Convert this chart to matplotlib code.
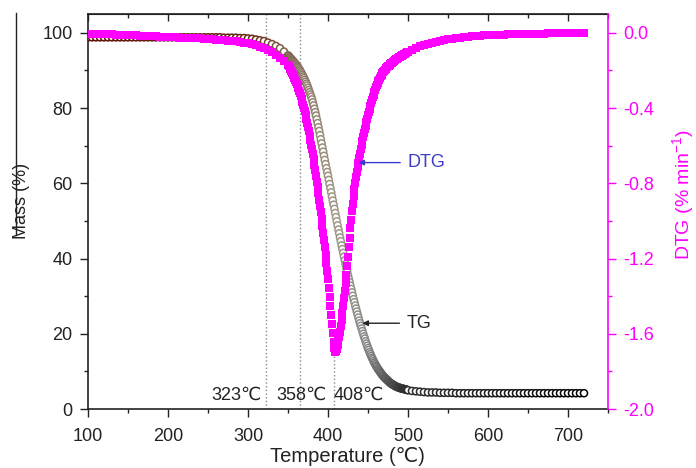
import numpy as np
import matplotlib
matplotlib.use('Agg')
import matplotlib.pyplot as plt
from matplotlib.colors import LinearSegmentedColormap
from matplotlib.lines import Line2D
from matplotlib.ticker import MultipleLocator, FormatStrFormatter

plt.rcParams['font.family'] = ['Liberation Sans', 'DejaVu Sans']
plt.rcParams['mathtext.default'] = 'regular'
plt.rcParams['axes.unicode_minus'] = False

# Data: temperature grid (denser through the main decomposition step)
temp = np.concatenate([np.arange(100, 351, 5), np.arange(351, 500), np.arange(500, 721, 5)])

# TG, mass (%)
mass = [
    98.8, 98.8, 98.8, 98.8, 98.8, 98.8, 98.8, 98.8, 98.8, 98.8,
    98.8, 98.8, 98.8, 98.8, 98.8, 98.8, 98.8, 98.8, 98.8, 98.8,
    98.8, 98.8, 98.8, 98.8, 98.8, 98.8, 98.8, 98.8, 98.8, 98.8,
    98.8, 98.8, 98.8, 98.8, 98.7, 98.7, 98.7, 98.7, 98.6, 98.6,
    98.5, 98.4, 98.2, 98.0, 97.8, 97.4, 97.0, 96.5, 95.9, 95.0,
    94.0,
    93.8, 93.5, 93.3, 93.0, 92.8, 92.6, 92.3, 92.1, 91.8, 91.6,
    91.3, 91.0, 90.7, 90.3, 90.0, 89.6, 89.2, 88.8, 88.4, 88.0,
    87.5, 87.0, 86.5, 86.0, 85.4, 84.8, 84.2, 83.6, 83.0, 82.3,
    81.5, 80.7, 79.8, 78.9, 78.0, 77.0, 76.0, 74.9, 73.9, 72.8,
    71.7, 70.6, 69.5, 68.4, 67.3, 66.2, 65.1, 64.0, 63.0, 62.0,
    60.9, 59.8, 58.7, 57.6, 56.5, 55.4, 54.3, 53.2, 52.1, 51.0,
    49.9, 48.8, 47.7, 46.7, 45.6, 44.6, 43.5, 42.5, 41.5, 40.5,
    39.5, 38.5, 37.5, 36.5, 35.5, 34.6, 33.7, 32.8, 31.9, 31.0,
    30.1, 29.2, 28.4, 27.5, 26.7, 25.9, 25.1, 24.3, 23.5, 22.8,
    22.1, 21.4, 20.7, 20.0, 19.3, 18.7, 18.0, 17.4, 16.8, 16.2,
    15.7, 15.1, 14.6, 14.1, 13.6, 13.2, 12.7, 12.3, 11.9, 11.5,
    11.2, 10.8, 10.5, 10.2, 9.9, 9.6, 9.3, 9.0, 8.8,
    8.5, 8.3, 8.1, 7.9, 7.7, 7.5, 7.3, 7.1, 6.9, 6.75,
    6.6, 6.5, 6.35, 6.25, 6.1, 6.0, 5.9, 5.8, 5.75, 5.65,
    5.6, 5.5, 5.45, 5.4, 5.35, 5.3, 5.25, 5.2, 5.1, 5.05,
    5.0, 4.8, 4.7, 4.6, 4.5, 4.4, 4.4, 4.4, 4.3, 4.3,
    4.3, 4.3, 4.2, 4.2, 4.2, 4.2, 4.2, 4.2, 4.2, 4.2,
    4.2, 4.2, 4.2, 4.2, 4.2, 4.2, 4.2, 4.2, 4.2, 4.2,
    4.2, 4.2, 4.2, 4.2, 4.2, 4.2, 4.2, 4.2, 4.2, 4.2,
    4.2, 4.2, 4.2, 4.2, 4.2,
]

# DTG (% min-1)
dtg = [
    -0.005, -0.005, -0.006, -0.006, -0.007, -0.008, -0.008, -0.009, -0.010, -0.011,
    -0.012, -0.013, -0.014, -0.015, -0.016, -0.017, -0.018, -0.019, -0.020, -0.021,
    -0.022, -0.023, -0.024, -0.025, -0.026, -0.027, -0.028, -0.029, -0.030, -0.031,
    -0.033, -0.034, -0.036, -0.038, -0.040, -0.042, -0.044, -0.046, -0.049, -0.052,
    -0.055, -0.060, -0.066, -0.073, -0.082, -0.092, -0.104, -0.118, -0.134, -0.152,
    -0.172,
    -0.178, -0.186, -0.194, -0.203, -0.212, -0.222, -0.232, -0.242, -0.252, -0.262,
    -0.273, -0.284, -0.296, -0.308, -0.320, -0.335, -0.350, -0.366, -0.382, -0.400,
    -0.418, -0.437, -0.457, -0.478, -0.500, -0.523, -0.546, -0.570, -0.595, -0.620,
    -0.646, -0.673, -0.701, -0.730, -0.760, -0.791, -0.822, -0.854, -0.887, -0.920,
    -0.955, -0.990, -1.026, -1.063, -1.100, -1.140, -1.181, -1.223, -1.266, -1.310,
    -1.356, -1.403, -1.451, -1.500, -1.550, -1.598, -1.642, -1.678, -1.698, -1.694,
    -1.680, -1.660, -1.640, -1.615, -1.588, -1.558, -1.525, -1.490, -1.452, -1.412,
    -1.371, -1.329, -1.285, -1.240, -1.190, -1.140, -1.090, -1.040, -0.994, -0.950,
    -0.908, -0.868, -0.832, -0.798, -0.768, -0.740, -0.714, -0.690, -0.666, -0.643,
    -0.620, -0.598, -0.576, -0.555, -0.534, -0.514, -0.494, -0.475, -0.457, -0.439,
    -0.421, -0.404, -0.388, -0.372, -0.357, -0.342, -0.328, -0.315, -0.302, -0.290,
    -0.279, -0.268, -0.258, -0.249, -0.240, -0.232, -0.224, -0.216, -0.209,
    -0.202, -0.197, -0.192, -0.187, -0.183, -0.178, -0.174, -0.170, -0.166, -0.162,
    -0.158, -0.155, -0.151, -0.148, -0.144, -0.141, -0.138, -0.135, -0.132, -0.129,
    -0.126, -0.123, -0.121, -0.118, -0.116, -0.113, -0.111, -0.108, -0.106, -0.103,
    -0.101, -0.090, -0.080, -0.072, -0.065, -0.058, -0.052, -0.047, -0.042, -0.038,
    -0.034, -0.031, -0.028, -0.025, -0.023, -0.021, -0.019, -0.017, -0.016, -0.014,
    -0.013, -0.012, -0.011, -0.010, -0.009, -0.008, -0.008, -0.007, -0.006, -0.006,
    -0.005, -0.005, -0.004, -0.004, -0.004, -0.003, -0.003, -0.003, -0.002, -0.002,
    -0.002, -0.002, -0.001, -0.001, -0.001,
]

# characteristic temperatures
t_marks = [323, 358, 408]
t_labels = ['323℃', '358℃', '408℃']

magenta = '#ff00ff'
blue = '#3b3bc8'

fig = plt.figure(figsize=(6.96, 4.68), dpi=100)
ax = fig.add_axes([88 / 696, 1 - 409 / 468, 520 / 696, 395 / 468])
ax2 = ax.twinx()

# TG circles, colour goes dark red -> grey -> black along the run
tg_cmap = LinearSegmentedColormap.from_list('tg', [
    (0.0, '#5e0f08'), (0.33, '#6a2a14'), (0.42, '#8a7060'),
    (0.5, '#a09a88'), (0.56, '#8a8a8a'), (0.64, '#303030'), (1.0, '#000000')])
edge = tg_cmap((temp - 100) / 620.0)
ax.scatter(temp, mass, s=26, marker='o', facecolors='white', edgecolors=edge,
           linewidths=1.1, zorder=3)

ax2.scatter(temp, dtg, s=33, marker='s', color=magenta, linewidths=0, zorder=3)

# dotted guide lines
ax.axvline(t_marks[0], color='#8a8a8a', ls=':', lw=1, zorder=1)
ax.axvline(365, color='#8a8a8a', ls=':', lw=1, zorder=1)
ax.vlines(t_marks[2], 0, 15, color='#8a8a8a', ls=':', lw=1, zorder=1)

for x, s in zip([286, 367, 439], t_labels):
    ax.text(x, 3.7, s, ha='center', va='center', fontsize=13, color='#222222')

# annotations
ax2.annotate('DTG', xy=(438, -0.69), xytext=(499, -0.69), color=blue,
             fontsize=13, va='center', ha='left',
             arrowprops=dict(arrowstyle='-|>', color=blue, lw=1,
                             mutation_scale=8, shrinkA=3, shrinkB=0))
ax.annotate('TG', xy=(443, 22.8), xytext=(498, 22.8), color='#222222',
            fontsize=13, va='center', ha='left',
            arrowprops=dict(arrowstyle='-|>', color='#222222', lw=1,
                            mutation_scale=8, shrinkA=3, shrinkB=0))

# axes
ax.set_xlim(100, 750)
ax.set_ylim(0, 105)
ax2.set_ylim(-2.0, 0.1)

ax.set_xticks(range(100, 701, 100))
ax.xaxis.set_minor_locator(MultipleLocator(50))
ax.set_yticks(range(0, 101, 20))
ax.yaxis.set_minor_locator(MultipleLocator(10))
ax.tick_params(axis='both', which='major', direction='out', length=6, width=1,
               labelsize=13, colors='#222222', pad=5)
ax.tick_params(axis='x', which='major', pad=8)
ax.tick_params(axis='both', which='minor', direction='out', length=3, width=1,
               colors='#222222')

top = ax.secondary_xaxis('top')
top.set_xticks(range(100, 701, 100))
top.xaxis.set_minor_locator(MultipleLocator(50))
top.tick_params(axis='x', which='major', direction='in', length=5, width=1,
                labeltop=False, colors='#222222')
top.tick_params(axis='x', which='minor', direction='in', length=3, width=1,
                colors='#222222')
top.spines['top'].set_color('#222222')

ax2.set_yticks([-2.0, -1.6, -1.2, -0.8, -0.4, 0.0])
ax2.yaxis.set_minor_locator(MultipleLocator(0.2))
ax2.yaxis.set_major_formatter(FormatStrFormatter('%.1f'))
ax2.tick_params(axis='y', which='major', direction='out', length=6, width=1,
                labelsize=13, colors=magenta, pad=5)
ax2.tick_params(axis='y', which='minor', direction='out', length=3, width=1,
                colors=magenta)

for sp in ['left', 'bottom', 'top']:
    ax.spines[sp].set_color('#222222')
    ax.spines[sp].set_linewidth(1.2)
ax.spines['right'].set_visible(False)
for sp in ['left', 'bottom', 'top']:
    ax2.spines[sp].set_visible(False)
ax2.spines['right'].set_color(magenta)
ax2.spines['right'].set_linewidth(1.2)

# axis titles
fig.text(347 / 696, 1 - 457 / 468, 'Temperature (℃)', ha='center', va='center',
         fontsize=14.5, color='#222222')
fig.text(21 / 696, 1 - 201 / 468, 'Mass (%)', rotation=90, ha='center',
         va='center', fontsize=13, color='#222222')
fig.text(683 / 696, 1 - 195 / 468, 'DTG (% min$^{-1}$)', rotation=90,
         ha='center', va='center', fontsize=14, color=magenta)

# stray scan line at the far left of the original figure
fig.add_artist(Line2D([16 / 696, 16 / 696], [1 - 13 / 468, 1 - 235 / 468],
                      color='#222222', lw=1))

fig.savefig('out.png', dpi=100)
